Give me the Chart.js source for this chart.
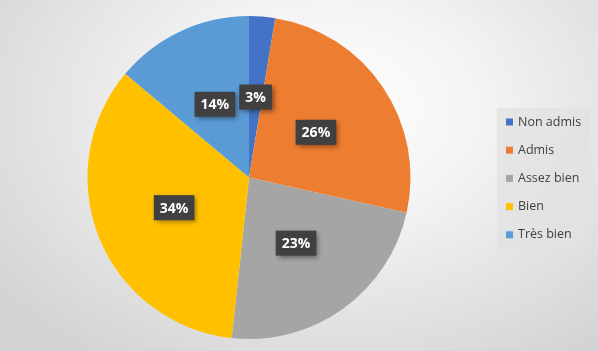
<!DOCTYPE html>
<html>
<head>
<meta charset="utf-8">
<script src="https://cdn.jsdelivr.net/npm/chart.js@4.4.1/dist/chart.umd.min.js"></script>
<style>
    html, body {
        margin: 0;
        padding: 0;
    }
    body {
        width: 598px;
        height: 351px;
        overflow: hidden;
        background: radial-gradient(ellipse 420px 300px at 330px 110px, #ffffff 0%, #f4f4f4 35%, #d3d3d3 100%);
    }
    #wrap {
        position: relative;
        width: 598px;
        height: 351px;
    }
</style>
</head>
<body>
<div id="wrap"><canvas id="mentionChart" width="598" height="351"></canvas></div>
<script>
const categories = ['Non admis', 'Admis', 'Assez bien', 'Bien', 'Très bien'];
// shares; labels show them rounded
const shares = [2.6, 25.9, 23.2, 34.4, 13.9];
const sliceColors = ['#4472C4', '#ED7D31', '#A5A5A5', '#FFC000', '#5B9BD5'];

// Dark value boxes in the middle of each slice
const valueBoxes = {
    id: 'valueBoxes',
    afterDatasetsDraw(chart) {
        const { ctx } = chart;
        const meta = chart.getDatasetMeta(0);
        ctx.save();
        ctx.font = 'bold 14px "Open Sans", sans-serif';
        ctx.textAlign = 'center';
        ctx.textBaseline = 'middle';
        meta.data.forEach((arc, i) => {
            const mid = (arc.startAngle + arc.endAngle) / 2;
            const r = arc.outerRadius * 0.5;
            const x = arc.x + Math.cos(mid) * r;
            const y = arc.y + Math.sin(mid) * r;
            const text = Math.round(shares[i]) + '%';
            const w = ctx.measureText(text).width + 12;
            const h = 25;
            ctx.save();
            ctx.shadowColor = 'rgba(0, 0, 0, 0.45)';
            ctx.shadowBlur = 5;
            ctx.shadowOffsetX = 2;
            ctx.shadowOffsetY = 2;
            ctx.fillStyle = '#404040';
            ctx.fillRect(x - w / 2, y - h / 2, w, h);
            ctx.restore();
            ctx.fillStyle = '#ffffff';
            ctx.fillText(text, x, y + 1);
        });
        ctx.restore();
    }
};

// Legend box on the right
const sideLegend = {
    id: 'sideLegend',
    afterDraw(chart) {
        const { ctx } = chart;
        const left = 497, top = 108, width = 93, height = 142;
        ctx.save();
        ctx.fillStyle = 'rgba(225, 225, 225, 0.75)';
        ctx.fillRect(left, top, width, height);
        ctx.font = '12.5px "Open Sans", sans-serif';
        ctx.textBaseline = 'middle';
        ctx.textAlign = 'left';
        categories.forEach((name, i) => {
            const cy = 122 + i * 28.2;
            ctx.fillStyle = sliceColors[i];
            ctx.fillRect(506, cy - 3.5, 7, 7);
            ctx.fillStyle = '#404040';
            ctx.fillText(name, 518, cy);
        });
        ctx.restore();
    }
};

new Chart(document.getElementById('mentionChart'), {
    type: 'pie',
    data: {
        labels: categories,
        datasets: [{
            data: shares,
            backgroundColor: sliceColors,
            borderWidth: 0
        }]
    },
    options: {
        responsive: false,
        animation: false,
        layout: {
            padding: { left: 87, right: 187, top: 16, bottom: 12 }
        },
        plugins: {
            legend: { display: false },
            tooltip: { enabled: false }
        }
    },
    plugins: [valueBoxes, sideLegend]
});
</script>
</body>
</html>
